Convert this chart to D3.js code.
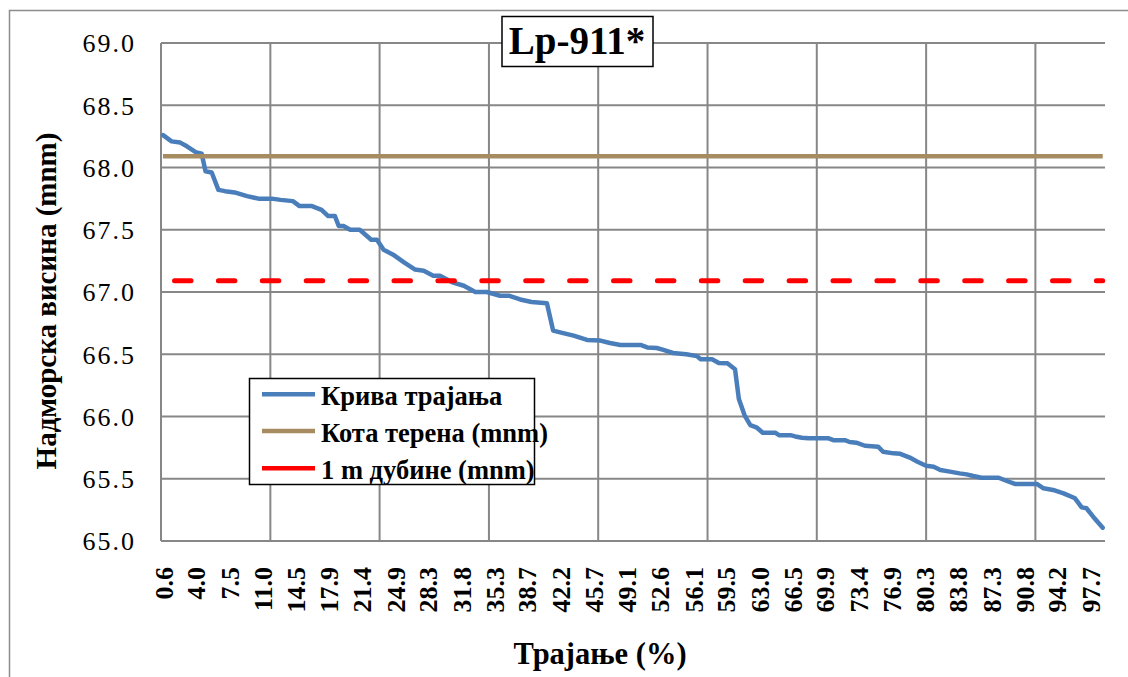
<!DOCTYPE html>
<html>
<head>
<meta charset="utf-8">
<script src="https://cdn.jsdelivr.net/npm/d3@7"></script>
<style>
  html, body { margin: 0; padding: 0; background: #fff; }
  svg { display: block; }
</style>
</head>
<body>
<svg id="chart" width="1128" height="677"></svg>
<script>
// ---- data ----
const durations = [0.6, 1.5, 2.4, 3.1, 4.1, 4.65, 5.05, 5.7, 6.4, 7.1, 8.1, 9.4, 10.6, 12.0, 12.9, 14.2, 14.9, 16.2, 17.2, 17.9,
  18.6, 19.0, 19.5, 20.2, 21.2, 22.4, 23.0, 23.7, 24.7, 25.8, 27.0, 27.9, 28.9, 29.6, 31.0, 32.1, 33.3, 34.5, 35.9, 36.8,
  38.0, 39.2, 40.8, 41.45, 42.5, 43.6, 45.0, 46.4, 47.4, 48.5, 50.6, 51.3, 52.3, 53.0, 54.0, 55.4, 56.5, 56.9, 58.1, 58.8,
  59.7, 60.5, 60.9, 61.5, 62.1, 62.8, 63.4, 64.7, 65.1, 66.3, 66.8, 67.5, 68.2, 70.3, 70.8, 72.0, 72.5, 73.2, 74.1, 75.5,
  76.0, 77.1, 77.8, 78.8, 79.6, 80.5, 81.3, 82.0, 83.0, 84.0, 84.75, 85.45, 86.3, 88.1, 88.9, 89.8, 92.1, 92.8, 93.8, 94.9,
  96.1, 96.8, 97.3, 98.0, 99.0];
const elevations = [68.26, 68.21, 68.20, 68.17, 68.12, 68.11, 67.97, 67.96, 67.82, 67.81, 67.80, 67.77, 67.75, 67.75, 67.74, 67.73, 67.69, 67.69, 67.66, 67.61,
  67.61, 67.53, 67.53, 67.50, 67.50, 67.42, 67.42, 67.34, 67.30, 67.24, 67.18, 67.17, 67.13, 67.13, 67.075, 67.05, 67.00, 67.00, 66.97, 66.97,
  66.94, 66.92, 66.91, 66.69, 66.67, 66.65, 66.615, 66.61, 66.59, 66.575, 66.575, 66.555, 66.55, 66.535, 66.51, 66.50, 66.485, 66.46, 66.46, 66.43,
  66.427, 66.38, 66.14, 66.01, 65.93, 65.91, 65.87, 65.87, 65.85, 65.85, 65.84, 65.83, 65.825, 65.825, 65.81, 65.81, 65.795, 65.79, 65.765, 65.757,
  65.717, 65.704, 65.70, 65.67, 65.637, 65.605, 65.597, 65.57, 65.557, 65.543, 65.535, 65.522, 65.508, 65.508, 65.484, 65.458, 65.458, 65.423, 65.41, 65.383,
  65.343, 65.27, 65.263, 65.195, 65.107];
const levelDurations = [0.6, 99.0];
const terrainLevel = [68.09, 68.09];     // Кота терена (mnm)
const depthLevel = [67.09, 67.09];       // 1 m дубине (mnm)
const yTicks = [65.0, 65.5, 66.0, 66.5, 67.0, 67.5, 68.0, 68.5, 69.0];
const xTickLabels = ["0.6", "4.0", "7.5", "11.0", "14.5", "17.9", "21.4", "24.9", "28.3", "31.8", "35.3", "38.7", "42.2", "45.7",
  "49.1", "52.6", "56.1", "59.5", "63.0", "66.5", "69.9", "73.4", "76.9", "80.3", "83.8", "87.3", "90.8", "94.2", "97.7"];
const xGridValues = [11.84, 23.28, 34.73, 46.17, 57.62, 69.06, 80.51, 91.95];
const seriesNames = ["Крива трајања", "Кота терена (mnm)", "1 m дубине (mnm)"];
const seriesColors = ["#4a7ebb", "#a68c60", "#ff0000"];
const title = "Lp-911*";
const xTitle = "Трајање (%)";
const yTitle = "Надморска висина (mnm)";

// ---- layout ----
const FONT = "'Liberation Serif', 'Times New Roman', serif";
const svg = d3.select("#chart");
const plot = { left: 161, right: 1105, top: 43, bottom: 541 };
const x = d3.scaleLinear().domain([0.39, 99.24]).range([plot.left, plot.right]);
const y = d3.scaleLinear().domain([65, 69]).range([plot.bottom, plot.top]);
const gridColor = "#878787";

svg.append("rect").attr("width", 1128).attr("height", 677).attr("fill", "#fff");

// outer chart border (extends past the picture)
svg.append("rect").attr("x", 9.5).attr("y", 10.5).attr("width", 1180).attr("height", 700)
  .attr("fill", "none").attr("stroke", "#8c8c8c").attr("stroke-width", 1.5);

// horizontal gridlines
svg.append("g").selectAll("line").data(yTicks).join("line")
  .attr("x1", plot.left).attr("x2", plot.right)
  .attr("y1", d => y(d)).attr("y2", d => y(d))
  .attr("stroke", gridColor).attr("stroke-width", 2);
// vertical gridlines
svg.append("g").selectAll("line").data(xGridValues).join("line")
  .attr("x1", d => x(d)).attr("x2", d => x(d))
  .attr("y1", plot.top).attr("y2", plot.bottom)
  .attr("stroke", gridColor).attr("stroke-width", 2);
// left axis line
svg.append("line").attr("x1", plot.left).attr("x2", plot.left).attr("y1", plot.top).attr("y2", plot.bottom)
  .attr("stroke", gridColor).attr("stroke-width", 2);

// y axis labels
const yAxis = d3.axisLeft(y).tickValues(yTicks).tickFormat(d3.format(".1f")).tickSize(0).tickPadding(25);
const gy = svg.append("g").attr("transform", `translate(${plot.left},0)`).call(yAxis);
gy.select(".domain").remove();
gy.selectAll("text").style("font-family", FONT).style("font-size", "26px")
  .style("letter-spacing", "2px").attr("fill", "#000").attr("dy", "0.34em");

// x axis labels
const xAxis = d3.axisBottom(x).tickValues(xTickLabels.map(Number)).tickFormat(d3.format(".1f")).tickSize(0);
const gx = svg.append("g").attr("transform", `translate(0,${plot.bottom})`).call(xAxis);
gx.select(".domain").remove();
gx.selectAll("text")
  .style("font-family", FONT).style("font-size", "26px").style("font-weight", "bold")
  .attr("fill", "#000")
  .attr("text-anchor", "end").attr("y", 0).attr("dy", "0.35em")
  .attr("transform", "translate(0,26) rotate(-90)");

// series
const line = d3.line().x(d => x(d[0])).y(d => y(d[1]));
const curve = durations.map((d, i) => [d, elevations[i]]);
const terrain = levelDurations.map((d, i) => [d, terrainLevel[i]]);
const depth = levelDurations.map((d, i) => [d, depthLevel[i]]);

svg.append("path").datum(curve).attr("d", line)
  .attr("fill", "none").attr("stroke", seriesColors[0]).attr("stroke-width", 4.5)
  .attr("stroke-linejoin", "round").attr("stroke-linecap", "round");
svg.append("path").datum(terrain).attr("d", line)
  .attr("fill", "none").attr("stroke", seriesColors[1]).attr("stroke-width", 4.5);
svg.append("path").datum(depth).attr("d", line)
  .attr("fill", "none").attr("stroke", seriesColors[2]).attr("stroke-width", 5)
  .attr("stroke-linecap", "round").attr("stroke-dasharray", "16.5 27.4").attr("stroke-dashoffset", 32.4);

// title box
const tg = svg.append("g");
tg.append("rect").attr("x", 502).attr("y", 16.5).attr("width", 151).attr("height", 50)
  .attr("fill", "#fff").attr("stroke", "#000").attr("stroke-width", 1.5);
tg.append("text").attr("x", 577).attr("y", 53.5).attr("text-anchor", "middle")
  .style("font-family", FONT).style("font-size", "39px").style("font-weight", "bold").text(title);

// legend
const lg = svg.append("g");
lg.append("rect").attr("x", 249.5).attr("y", 378.5).attr("width", 285).attr("height", 106)
  .attr("fill", "#fff").attr("stroke", "#000").attr("stroke-width", 1.5);
const rows = [394.3, 431, 468.3];
seriesNames.forEach((name, i) => {
  lg.append("line").attr("x1", 262).attr("x2", 315).attr("y1", rows[i]).attr("y2", rows[i])
    .attr("stroke", seriesColors[i]).attr("stroke-width", 4.5);
  lg.append("text").attr("x", 321).attr("y", rows[i] + 11)
    .style("font-family", FONT).style("font-size", "26.5px").style("font-weight", "bold")
    .text(name);
});

// axis titles
svg.append("text").attr("x", 600).attr("y", 663.5).attr("text-anchor", "middle")
  .style("font-family", FONT).style("font-size", "30.5px").style("font-weight", "bold").text(xTitle);
svg.append("text").attr("transform", "translate(56,301) rotate(-90)").attr("text-anchor", "middle")
  .style("font-family", FONT).style("font-size", "29px").style("font-weight", "bold").text(yTitle);
</script>
</body>
</html>
